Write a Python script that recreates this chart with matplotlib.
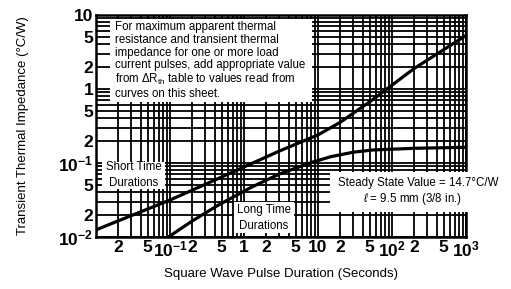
import matplotlib
matplotlib.use("Agg")
import matplotlib.pyplot as plt
from matplotlib.patches import Rectangle
from matplotlib.ticker import LogLocator, NullFormatter

# data (seconds, degC/W)
short_x = [0.01, 0.1, 0.47, 3.0, 10, 20, 55, 200, 1000]
short_y = [0.0125, 0.0316, 0.063, 0.145, 0.24, 0.355, 0.72, 1.9, 5.3]
long_x = [0.095, 0.2, 0.45, 1.2, 3.0, 8.5, 15, 30, 55, 200, 1000]
long_y = [0.010, 0.0165, 0.027, 0.046, 0.071, 0.103, 0.122, 0.14, 0.15, 0.158, 0.163]

x_ticks = [0.02, 0.05, 0.1, 0.2, 0.5, 1, 2, 5, 10, 20, 50, 100, 200, 500, 1000]
x_labels = ["2", "5", r"$\mathbf{10^{-1}}$", "2", "5", "1", "2", "5", "10",
            "2", "5", r"$\mathbf{10^{2}}$", "2", "5", r"$\mathbf{10^{3}}$"]
y_ticks = [0.01, 0.02, 0.05, 0.1, 0.2, 0.5, 1, 2, 5, 10]
y_labels = [r"$\mathbf{10^{-2}}$", "2", "5", r"$\mathbf{10^{-1}}$", "2", "5",
            "1", "2", "5", "10"]

plt.rcParams["font.family"] = ["Liberation Sans Narrow", "Liberation Sans", "DejaVu Sans"]
plt.rcParams["mathtext.fontset"] = "custom"
plt.rcParams["mathtext.rm"] = "Liberation Sans"
plt.rcParams["mathtext.bf"] = "Liberation Sans:bold"
plt.rcParams["mathtext.it"] = "Liberation Sans:italic"

fig = plt.figure(figsize=(5.11, 2.89), dpi=100)
ax = fig.add_axes([0.188, 0.180, 0.724, 0.768])
ax.set_xscale("log")
ax.set_yscale("log")
ax.set_xlim(0.01, 1000)
ax.set_ylim(0.01, 10)

ax.set_xticks(x_ticks)
ax.set_xticklabels(x_labels)
ax.set_yticks(y_ticks)
ax.set_yticklabels(y_labels)
ax.xaxis.set_minor_locator(LogLocator(base=10, subs=range(1, 10)))
ax.yaxis.set_minor_locator(LogLocator(base=10, subs=range(1, 10)))
ax.xaxis.set_minor_formatter(NullFormatter())
ax.yaxis.set_minor_formatter(NullFormatter())
ax.tick_params(which="both", length=0, pad=2)
for lab in ax.get_xticklabels() + ax.get_yticklabels():
    lab.set_family("Liberation Sans")
    lab.set_fontweight("bold")
    lab.set_fontsize(12.5)

ax.grid(which="both", color="black", linewidth=1.3)
ax.set_axisbelow(True)
for s in ax.spines.values():
    s.set_linewidth(1.8)

ax.plot(short_x, short_y, color="black", linewidth=2.3, zorder=3)
ax.plot(long_x, long_y, color="black", linewidth=2.3, zorder=3)

# white label boxes covering the grid
ax.add_patch(Rectangle((0.038, 0.608), 0.545, 0.374, transform=ax.transAxes,
                       facecolor="white", edgecolor="none", zorder=4))
ax.add_patch(Rectangle((0.017, 0.218), 0.168, 0.122, transform=ax.transAxes,
                       facecolor="white", edgecolor="none", zorder=4))
ax.add_patch(Rectangle((0.372, 0.016), 0.162, 0.14, transform=ax.transAxes,
                       facecolor="white", edgecolor="none", zorder=4))
ax.add_patch(Rectangle((0.632, 0.113), 0.5, 0.18, transform=ax.transAxes,
                       facecolor="white", edgecolor="none", zorder=4, clip_on=False))

note = ("For maximum apparent thermal\n"
        "resistance and transient thermal\n"
        "impedance for one or more load\n"
        "current pulses, add appropriate value\n"
        r"from $\Delta$R$_{\rm th}$ table to values read from" "\n"
        "curves on this sheet.")
ax.text(0.05, 0.972, note, transform=ax.transAxes, ha="left", va="top",
        fontsize=8.3, linespacing=1.08, zorder=5)
ax.text(0.101, 0.28, "Short Time\nDurations", transform=ax.transAxes,
        ha="center", va="center", fontsize=8.3, linespacing=1.45, zorder=5)
ax.text(0.453, 0.085, "Long Time\nDurations", transform=ax.transAxes,
        ha="center", va="center", fontsize=8.3, linespacing=1.45, zorder=5)
ax.text(0.655, 0.245, "Steady State Value = 14.7°C/W", transform=ax.transAxes,
        ha="left", va="center", fontsize=8.3, zorder=5, clip_on=False)
ax.text(0.855, 0.17, r"$\mathit{\ell}$ = 9.5 mm (3/8 in.)", transform=ax.transAxes,
        ha="center", va="center", fontsize=8.3, zorder=5, clip_on=False)

ax.set_xlabel("Square Wave Pulse Duration (Seconds)", fontsize=9.5, labelpad=6)
ax.set_ylabel("Transient Thermal Impedance (°C/W)", fontsize=9.5, labelpad=21)

fig.savefig("out.png", dpi=100)
